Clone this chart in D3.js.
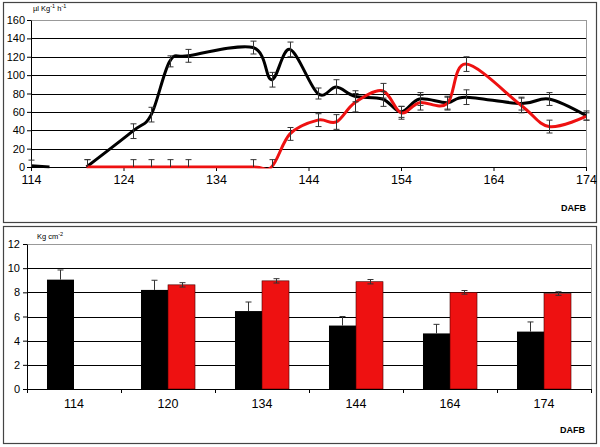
<!DOCTYPE html>
<html>
<head>
<meta charset="utf-8">
<script src="https://cdnjs.cloudflare.com/ajax/libs/d3/7.8.5/d3.min.js"></script>
<style>
  body { margin: 0; background: #fff; }
  svg { display: block; font-family: 'Liberation Sans', Arial, sans-serif; }
</style>
</head>
<body>
<script>
// ---- top chart data (DAFB vs rate) ----
var blackDays = [114, 116, 118, 120, 125, 127, 129, 131, 138, 140, 142, 145, 147, 149, 152, 154, 156, 159, 161, 167, 170, 174];
var blackVals = [1.5, 0, null, 0, 39, 57, 115, 121, 130, 95, 128, 80, 87, 77, 74, 60, 74, 70, 76, 69, 74, 56];
var blackErr  = [6, null, null, 8, 8, 8, 6, 7, 7, 8, 8, 6, 8, 6, 8, 6, 7, 7, 8, 7, 7, 5];

var redDays = [120, 125, 127, 129, 131, 138, 140, 142, 145, 147, 149, 152, 154, 156, 159, 161, 167, 170, 174];
var redVals = [0, 0, 0, 0, 0, 0, 0, 36, 51, 49, 70, 83, 59, 70, 69, 112, 67, 44, 55];
var redErr  = [8, 8, 8, 8, 8, 8, 8, 7, 7, 8, 10, 8, 7, 8, 7, 8, 8, 7, 4];

var topTicksY = [0, 20, 40, 60, 80, 100, 120, 140, 160];
var topTicksX = [114, 124, 134, 144, 154, 164, 174];

// ---- bottom chart data ----
var barCats = ['114', '120', '134', '144', '164', '174'];
var blackBar = [9.05, 8.2, 6.45, 5.25, 4.6, 4.75];
var blackBarErr = [0.8, 0.8, 0.75, 0.75, 0.75, 0.8];
var redBar = [null, 8.62, 8.95, 8.88, 8.0, 7.9];
var redBarErr = [null, 0.18, 0.18, 0.18, 0.15, 0.15];
var botTicksY = [0, 2, 4, 6, 8, 10, 12];

var RED = '#ee1111';

var svg = d3.select('body').append('svg').attr('width', 600).attr('height', 447);

// panel frames
svg.append('rect').attr('x', 3.5).attr('y', 2.5).attr('width', 593).attr('height', 220)
  .attr('fill', 'none').attr('stroke', '#444').attr('stroke-width', 1.2);
svg.append('rect').attr('x', 3.5).attr('y', 226.5).attr('width', 593).attr('height', 217)
  .attr('fill', 'none').attr('stroke', '#444').attr('stroke-width', 1.2);

// ================= TOP =================
var x = d3.scaleLinear().domain([114, 174]).range([31, 586]);
var y = d3.scaleLinear().domain([0, 160]).range([167, 20]);

// keep the smoothed lines from dipping under the x axis
svg.append('defs').append('clipPath').attr('id', 'lineClip')
  .append('rect').attr('x', 0).attr('y', 0).attr('width', 600).attr('height', y(0) + 1.5);

var topG = svg.append('g');

// gridlines
topG.selectAll('.grid').data(topTicksY.filter(function (d) { return d > 0; })).enter().append('line')
  .attr('x1', x(114)).attr('x2', x(174))
  .attr('y1', function (d) { return Math.round(y(d)) + 0.5; })
  .attr('y2', function (d) { return Math.round(y(d)) + 0.5; })
  .attr('stroke', function (d) { return d === 160 ? '#999' : '#000'; })
  .attr('stroke-width', 1);
topG.append('line').attr('x1', x(174) + 0.5).attr('x2', x(174) + 0.5)
  .attr('y1', y(160)).attr('y2', y(0)).attr('stroke', '#999');

// axes
var yAxisTop = topG.append('g').attr('transform', 'translate(' + x(114) + ',0)')
  .call(d3.axisLeft(y).tickValues(topTicksY).tickSize(4).tickSizeOuter(0));
var xAxisTop = topG.append('g').attr('transform', 'translate(0,' + y(0) + ')')
  .call(d3.axisBottom(x).tickValues(topTicksX).tickSize(4).tickSizeOuter(0).tickPadding(4));
[yAxisTop, xAxisTop].forEach(function (a) {
  a.select('.domain').attr('stroke', '#000');
  a.selectAll('line').attr('stroke', '#000');
  a.selectAll('text').attr('fill', '#000').attr('font-family', 'Liberation Sans, Arial, sans-serif');
});
yAxisTop.selectAll('text').attr('font-size', 11).attr('dx', '1');
xAxisTop.selectAll('text').attr('font-size', 12.5);

// lines
var line = d3.line()
  .defined(function (d) { return d[1] != null; })
  .x(function (d) { return x(d[0]); })
  .y(function (d) { return y(d[1]); })
  .curve(d3.curveCardinal.tension(0));

function drawErr(g, days, vals, errs) {
  days.forEach(function (dd, i) {
    if (vals[i] == null || errs[i] == null) return;
    var cx = Math.round(x(dd)) + 0.5;
    var hi = y(vals[i] + errs[i]);
    var lo = y(Math.max(0, vals[i] - errs[i]));
    g.append('line').attr('x1', cx).attr('x2', cx).attr('y1', hi).attr('y2', lo);
    g.append('line').attr('x1', cx - 3).attr('x2', cx + 3).attr('y1', hi).attr('y2', hi);
    if (vals[i] - errs[i] > 0)
      g.append('line').attr('x1', cx - 3).attr('x2', cx + 3).attr('y1', lo).attr('y2', lo);
  });
}

var linesG = topG.append('g').attr('clip-path', 'url(#lineClip)');
linesG.append('path').datum(blackDays.map(function (d, i) { return [d, blackVals[i]]; }))
  .attr('d', line).attr('fill', 'none').attr('stroke', '#000').attr('stroke-width', 3);
linesG.append('path').datum(redDays.map(function (d, i) { return [d, redVals[i]]; }))
  .attr('d', line).attr('fill', 'none').attr('stroke', RED).attr('stroke-width', 3);

var errTop = topG.append('g').attr('stroke', '#333').attr('stroke-width', 1);
drawErr(errTop, blackDays, blackVals, blackErr);
drawErr(errTop, redDays, redVals, redErr);

// labels
var u1 = svg.append('text').attr('x', 33).attr('y', 11).attr('font-size', 7.5).attr('fill', '#000');
u1.append('tspan').text('µl Kg');
u1.append('tspan').attr('font-size', 5.5).attr('dy', -3).text('-1');
u1.append('tspan').attr('dy', 3).text(' h');
u1.append('tspan').attr('font-size', 5.5).attr('dy', -3).text('-1');
svg.append('text').attr('x', 586).attr('y', 211).attr('text-anchor', 'end')
  .attr('font-size', 9).attr('font-weight', 'bold').text('DAFB');

// ================= BOTTOM =================
var xb = d3.scaleBand().domain(barCats).range([27, 591]);
var xs = d3.scaleBand().domain(['b', 'r']).range([0, xb.bandwidth()]).paddingOuter(0.74);
var yb = d3.scaleLinear().domain([0, 12]).range([389, 244]);

var botG = svg.append('g');
botG.selectAll('.grid').data(botTicksY.filter(function (d) { return d > 0; })).enter().append('line')
  .attr('x1', 27).attr('x2', 591)
  .attr('y1', function (d) { return Math.round(yb(d)) + 0.5; })
  .attr('y2', function (d) { return Math.round(yb(d)) + 0.5; })
  .attr('stroke', function (d) { return d === 12 ? '#999' : '#000'; });
botG.append('line').attr('x1', 591.5).attr('x2', 591.5).attr('y1', yb(12)).attr('y2', yb(0)).attr('stroke', '#999');

// bars
barCats.forEach(function (c, i) {
  var x0 = xb(c);
  botG.append('rect').attr('x', x0 + xs('b')).attr('width', xs.bandwidth())
    .attr('y', yb(blackBar[i])).attr('height', yb(0) - yb(blackBar[i])).attr('fill', '#000');
  if (redBar[i] != null) {
    botG.append('rect').attr('x', x0 + xs('r')).attr('width', xs.bandwidth())
      .attr('y', yb(redBar[i])).attr('height', yb(0) - yb(redBar[i]))
      .attr('fill', RED).attr('stroke', '#400').attr('stroke-width', 0.6);
  }
});

var errBot = botG.append('g').attr('stroke', '#333').attr('stroke-width', 1);
barCats.forEach(function (c, i) {
  var cx = Math.round(xb(c) + xs('b') + xs.bandwidth() / 2) + 0.5;
  var hi = yb(blackBar[i] + blackBarErr[i]);
  errBot.append('line').attr('x1', cx).attr('x2', cx).attr('y1', yb(blackBar[i])).attr('y2', hi);
  errBot.append('line').attr('x1', cx - 3).attr('x2', cx + 3).attr('y1', hi).attr('y2', hi);
  if (redBar[i] != null) {
    var rx = Math.round(xb(c) + xs('r') + xs.bandwidth() / 2) + 0.5;
    var rh = yb(redBar[i] + redBarErr[i]), rl = yb(redBar[i] - redBarErr[i]);
    errBot.append('line').attr('x1', rx).attr('x2', rx).attr('y1', rh).attr('y2', rl);
    errBot.append('line').attr('x1', rx - 3).attr('x2', rx + 3).attr('y1', rh).attr('y2', rh);
    errBot.append('line').attr('x1', rx - 3).attr('x2', rx + 3).attr('y1', rl).attr('y2', rl);
  }
});

var yAxisBot = botG.append('g').attr('transform', 'translate(27,0)')
  .call(d3.axisLeft(yb).tickValues(botTicksY).tickSize(4).tickSizeOuter(0));
var xAxisBot = botG.append('g').attr('transform', 'translate(0,' + yb(0) + ')')
  .call(d3.axisBottom(xb).tickSize(0).tickSizeOuter(0).tickPadding(10));
// tick marks on band boundaries
xAxisBot.selectAll('.bnd').data(barCats.concat(['end'])).enter().append('line')
  .attr('x1', function (d, i) { return Math.round(27 + i * xb.step()) + 0.5; })
  .attr('x2', function (d, i) { return Math.round(27 + i * xb.step()) + 0.5; })
  .attr('y1', 0).attr('y2', 4).attr('stroke', '#000');
[yAxisBot, xAxisBot].forEach(function (a) {
  a.select('.domain').attr('stroke', '#000');
  a.selectAll('line').attr('stroke', '#000');
  a.selectAll('text').attr('fill', '#000').attr('font-family', 'Liberation Sans, Arial, sans-serif');
});
yAxisBot.selectAll('text').attr('font-size', 11);
xAxisBot.selectAll('text').attr('font-size', 12.5);

var u2 = svg.append('text').attr('x', 37).attr('y', 239).attr('font-size', 7.5).attr('fill', '#000');
u2.append('tspan').text('Kg cm');
u2.append('tspan').attr('font-size', 5.5).attr('dy', -3).text('-2');
svg.append('text').attr('x', 585).attr('y', 433).attr('text-anchor', 'end')
  .attr('font-size', 9).attr('font-weight', 'bold').text('DAFB');
</script>
</body>
</html>
